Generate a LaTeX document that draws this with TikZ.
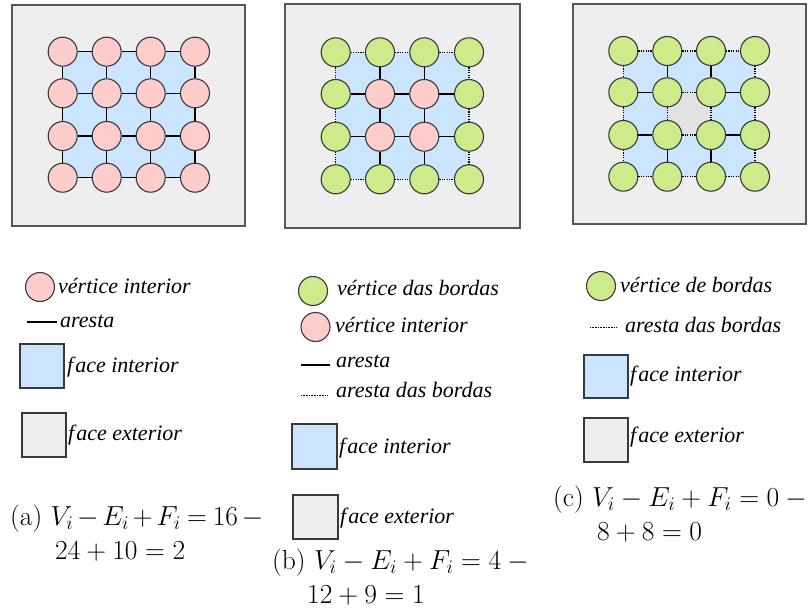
\RequirePackage{fix-cm}
\documentclass[tikz,border=0pt]{standalone}
\usepackage{fontspec}
\newfontfamily\legfont{Liberation Serif}
\definecolor{strk}{HTML}{36393D}
\definecolor{pinkf}{HTML}{FFCCCC}
\definecolor{greenf}{HTML}{CDEB8B}
\definecolor{bluef}{HTML}{CCE5FF}
\definecolor{grayf}{HTML}{EEEEEE}
\definecolor{holef}{HTML}{E3E3E3}
\tikzset{
  vint/.style={circle, draw=strk, fill=pinkf, line width=1.1pt, minimum size=29pt, inner sep=0pt},
  vbd/.style={circle, draw=strk, fill=greenf, line width=1.1pt, minimum size=29pt, inner sep=0pt},
  edge/.style={draw=black, line width=1.5pt},
  bedge/.style={draw=black, line width=1.5pt, dash pattern=on 1.2pt off 1.2pt},
  panel/.style={draw=strk!85, fill=grayf, line width=1.2pt},
  legsq/.style={draw=strk, line width=1.1pt},
  legtxt/.style={anchor=base west, inner sep=0pt, font=\legfont\itshape\fontsize{22}{26}\selectfont},
  captxt/.style={anchor=base west, inner sep=0pt, font=\fontsize{27.5}{33}\selectfont},
}
\begin{document}
\begin{tikzpicture}[x=1pt,y=-1pt]
\useasboundingbox (0,0) rectangle (811,613);
% ---------- panel (a)
\draw[panel] (12,5) rectangle (245,226);
\fill[bluef] (62.7,51.7) rectangle (195,177.7);
\foreach \r/\yy in {1/51.7,2/93.3,3/136,4/177.7}
  \foreach \c/\xx in {1/62.7,2/106.7,3/150.7,4/195}
    \node[vint] (a\r\c) at (\xx,\yy) {};
\foreach \r in {1,...,4}
  \foreach \c in {1,2,3}{
    \pgfmathtruncatemacro\n{\c+1}
    \draw[edge] (a\r\c) -- (a\r\n);
    \draw[edge] (a\c\r) -- (a\n\r);
  }
% ---------- panel (b)
\draw[panel] (285,4) rectangle (520,228);
\fill[bluef] (335.7,52.3) rectangle (469,179.3);
\foreach \r/\yy in {1/52.3,2/94,3/136.7,4/179.3}
  \foreach \c/\xx in {1/335.7,2/380,3/424.3,4/469}{
    \pgfmathtruncatemacro\bd{(\r==1)||(\r==4)||(\c==1)||(\c==4)}
    \ifnum\bd=1 \def\vs{vbd}\else\def\vs{vint}\fi
    \node[\vs] (b\r\c) at (\xx,\yy) {};
  }
\foreach \r in {1,...,4}
  \foreach \c in {1,2,3}{
    \pgfmathtruncatemacro\n{\c+1}
    \pgfmathtruncatemacro\dt{(\r==1)||(\r==4)}
    \ifnum\dt=1 \def\es{bedge}\else\def\es{edge}\fi
    \draw[\es] (b\r\c) -- (b\r\n);
    \draw[\es] (b\c\r) -- (b\n\r);
  }
% ---------- panel (c)
\draw[panel] (573,4) rectangle (806,224);
\fill[bluef] (623.3,51) rectangle (755,176.7);
\fill[holef] (667.3,92.3) rectangle (711,135);
\foreach \r/\yy in {1/51,2/92.3,3/135,4/176.7}
  \foreach \c/\xx in {1/623.3,2/667.3,3/711,4/755}
    \node[vbd] (c\r\c) at (\xx,\yy) {};
\foreach \r in {1,...,4}
  \foreach \c in {1,2,3}{
    \pgfmathtruncatemacro\n{\c+1}
    \pgfmathtruncatemacro\dt{(\r==1)||(\r==4)||(((\r==2)||(\r==3))&&(\c==2))}
    \ifnum\dt=1 \def\es{bedge}\else\def\es{edge}\fi
    \draw[\es] (c\r\c) -- (c\r\n);
    \draw[\es] (c\c\r) -- (c\n\r);
  }
% ---------- legend (a)
\node[vint] (la1) at (40,287) {};
\node[legtxt] (la1t) at (58,293) {vértice interior};
\coordinate (la2s) at (27,322);
\coordinate (la2e) at (57,322);
\draw[edge, line width=1.2pt] (la2s) -- (la2e);
\node[legtxt] (la2t) at (60,327) {aresta};
\draw[legsq, fill=bluef] (20,344) rectangle (64,388);
\node[legtxt] (la3t) at (67,372) {f\kern2pt ace interior};
\draw[legsq, fill=grayf] (22,413) rectangle (66,457);
\node[legtxt] (la4t) at (68,440) {f\kern2pt ace exterior};
% ---------- legend (b)
\node[vbd] (lb1) at (313,291) {};
\node[legtxt] (lb1t) at (337,295) {vértice das bordas};
\node[vint] (lb2) at (315.5,327) {};
\node[legtxt] (lb2t) at (335,332) {vértice interior};
\coordinate (lb3s) at (301,365);
\coordinate (lb3e) at (330,365);
\draw[edge, line width=1.2pt] (lb3s) -- (lb3e);
\node[legtxt] (lb3t) at (336,367) {aresta};
\coordinate (lb4s) at (301,395);
\coordinate (lb4e) at (327,395);
\draw[bedge, line width=1pt, dash pattern=on 0.8pt off 0.8pt] (lb4s) -- (lb4e);
\node[legtxt] (lb4t) at (336,397) {aresta das bordas};
\draw[legsq, fill=bluef] (292,424) rectangle (337,469);
\node[legtxt] (lb5t) at (339,453) {f\kern2pt ace interior};
\draw[legsq, fill=grayf] (293,495) rectangle (338,539);
\node[legtxt] (lb6t) at (340,523) {f\kern2pt ace exterior};
% ---------- legend (c)
\node[vbd] (lc1) at (601,286) {};
\node[legtxt] (lc1t) at (620,292) {vértice de bordas};
\coordinate (lc2s) at (590,327);
\coordinate (lc2e) at (617,327);
\draw[bedge, line width=1pt, dash pattern=on 0.8pt off 0.8pt] (lc2s) -- (lc2e);
\node[legtxt] (lc2t) at (625,332) {aresta das bordas};
\draw[legsq, fill=bluef] (584,355) rectangle (628,398);
\node[legtxt] (lc3t) at (630,381) {f\kern2pt ace interior};
\draw[legsq, fill=grayf] (584,418) rectangle (628,462);
\node[legtxt] (lc4t) at (630,442) {f\kern2pt ace exterior};
% ---------- captions
\node[captxt] (capa1) at (10,525) {(a) $\medmuskip=2.5mu\thickmuskip=4mu V_i-E_i+F_i=16-{}$};
\node[captxt] (capa2) at (55,559) {$24+10=2$};
\node[captxt] (capb1) at (272,569) {(b) $V_i-E_i+F_i=4-{}$};
\node[captxt] (capb2) at (307,603) {$12+9=1$};
\node[captxt] (capc1) at (553,506) {(c) $V_i-E_i+F_i=0-{}$};
\node[captxt] (capc2) at (597,540) {$8+8=0$};
\end{tikzpicture}
\end{document}
